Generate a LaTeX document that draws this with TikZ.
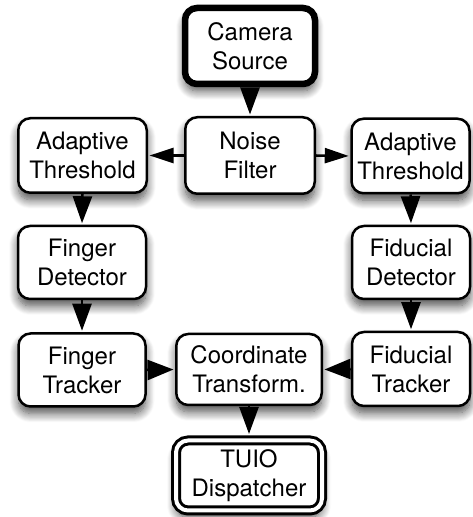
\documentclass[tikz,border=0pt]{standalone}
\usepackage{fontspec}
\setmainfont{TeX Gyre Heros}
\usetikzlibrary{arrows.meta,shadows.blur}
\begin{document}
\begin{tikzpicture}[x=1pt,y=1pt,
  box/.style={draw=black, fill=white, line width=2.5pt, rounded corners=12pt,
    align=center, inner sep=0pt, font=\fontsize{24}{29}\selectfont,
    blur shadow={shadow xshift=0pt, shadow yshift=-7pt, shadow blur radius=9pt, shadow opacity=70, shadow blur steps=12}},
  vflow/.style={-{Triangle[width=19pt,length=27pt]}, line width=2.5pt, shorten >=1.5pt},
  hflow/.style={-{Triangle[width=15pt,length=24pt]}, line width=2.5pt, shorten >=1.5pt},
  hflowb/.style={-{Triangle[width=20pt,length=26pt]}, line width=2.5pt, shorten >=1.5pt}
]
\useasboundingbox (0,0) rectangle (473,517);
\node[box, line width=6.5pt, minimum width=130pt, minimum height=76pt] (camera) at (250,471) {Camera\\Source};
\node[box, minimum width=129.5pt, minimum height=76.5pt] (noise) at (250,361.5) {Noise\\Filter};
\node[box, minimum width=128.5pt, minimum height=74.5pt] (ladapt) at (82.5,361.5) {Adaptive\\Threshold};
\node[box, minimum width=118pt, minimum height=74.5pt] (radapt) at (410.5,361) {Adaptive\\Threshold};
\node[box, minimum width=128pt, minimum height=73pt] (fdet) at (82,254.5) {Finger\\Detector};
\node[box, minimum width=118pt, minimum height=73pt] (fiddet) at (411,254.5) {Fiducial\\Detector};
\node[box, minimum width=127pt, minimum height=73pt] (ftrack) at (82,147) {Finger\\Tracker};
\node[box, minimum width=145.5pt, minimum height=71pt] (coord) at (249,147.5) {Coordinate\\Transform.};
\node[box, minimum width=118pt, minimum height=74pt] (fidtrack) at (411,148) {Fiducial\\Tracker};
\node[box, line width=3pt, double=white, double distance=4pt, minimum width=146pt, minimum height=70pt] (tuio) at (249,41.5) {TUIO\\Dispatcher};
\draw[vflow, shorten <=2pt] (camera.south) -- (noise.north);
\draw[hflow] (noise.west) -- (ladapt.east);
\draw[hflow] (noise.east) -- (radapt.west);
\draw[vflow] (ladapt.south) -- (fdet.north);
\draw[vflow] (fdet.south) -- (ftrack.north);
\draw[vflow] (radapt.south) -- (fiddet.north);
\draw[vflow] (fiddet.south) -- (fidtrack.north);
\draw[hflowb] (ftrack.east) -- (coord.west);
\draw[hflowb] (fidtrack.west) -- (coord.east);
\draw[vflow, shorten >=5pt] (coord.south) -- (tuio.north);
\end{tikzpicture}
\end{document}
